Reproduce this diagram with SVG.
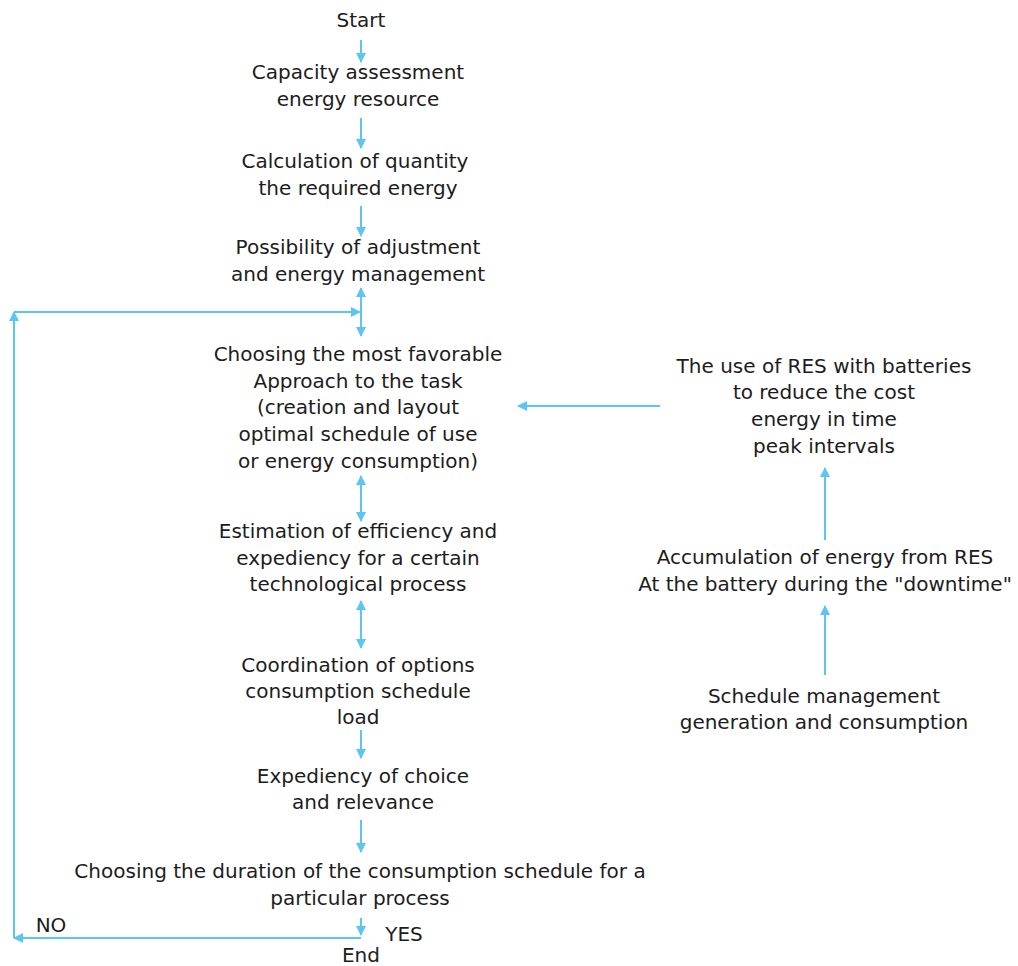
<svg xmlns="http://www.w3.org/2000/svg" width="1018" height="966" viewBox="0 0 1018 966">
  <style>
    text { font-family: "DejaVu Sans", "Liberation Sans", sans-serif; font-size: 20px; fill: #1c1c1c; text-anchor: middle; }
    .ln { stroke: #5bc6ef; stroke-width: 2; fill: none; }
  </style>
  <defs>
    <marker id="ah" viewBox="0 0 10 10" refX="9" refY="5" markerWidth="10" markerHeight="10" markerUnits="userSpaceOnUse" orient="auto-start-reverse">
      <path d="M0,0 L10,5 L0,10 z" fill="#5bc6ef"/>
    </marker>
  </defs>

  <g id="connectors">
    <line class="ln" x1="361" y1="40" x2="361" y2="62" marker-end="url(#ah)"/>
    <line class="ln" x1="361" y1="118" x2="361" y2="148" marker-end="url(#ah)"/>
    <line class="ln" x1="361" y1="206" x2="361" y2="236" marker-end="url(#ah)"/>
    <line class="ln" x1="361" y1="288" x2="361" y2="336" marker-start="url(#ah)" marker-end="url(#ah)"/>
    <line class="ln" x1="361" y1="476" x2="361" y2="521" marker-start="url(#ah)" marker-end="url(#ah)"/>
    <line class="ln" x1="361" y1="601" x2="361" y2="648" marker-start="url(#ah)" marker-end="url(#ah)"/>
    <line class="ln" x1="361" y1="730" x2="361" y2="758" marker-end="url(#ah)"/>
    <line class="ln" x1="361" y1="820" x2="361" y2="852" marker-end="url(#ah)"/>
    <line class="ln" x1="361" y1="918" x2="361" y2="935" marker-end="url(#ah)"/>
    <polyline class="ln" points="361,938 14,938" marker-end="url(#ah)"/>
    <line class="ln" x1="14" y1="938" x2="14" y2="312" marker-end="url(#ah)"/>
    <line class="ln" x1="14" y1="312" x2="360" y2="312" marker-end="url(#ah)"/>
    <line class="ln" x1="660" y1="406" x2="518" y2="406" marker-end="url(#ah)"/>
    <line class="ln" x1="825" y1="675" x2="825" y2="606" marker-end="url(#ah)"/>
    <line class="ln" x1="825" y1="540" x2="825" y2="468" marker-end="url(#ah)"/>
  </g>

  <g id="start"><text x="361" y="27">Start</text></g>
  <g id="capacity"><text x="358" y="79">Capacity assessment</text><text x="358" y="106">energy resource</text></g>
  <g id="calculation"><text x="355" y="168">Calculation of quantity</text><text x="358" y="195">the required energy</text></g>
  <g id="possibility"><text x="358" y="254">Possibility of adjustment</text><text x="358" y="281">and energy management</text></g>
  <g id="choosing-approach">
    <text x="358" y="361">Choosing the most favorable</text>
    <text x="358" y="388">Approach to the task</text>
    <text x="358" y="414">(creation and layout</text>
    <text x="358" y="441">optimal schedule of use</text>
    <text x="358" y="468">or energy consumption)</text>
  </g>
  <g id="estimation">
    <text x="358" y="538">Estimation of efficiency and</text>
    <text x="358" y="565">expediency for a certain</text>
    <text x="358" y="591">technological process</text>
  </g>
  <g id="coordination">
    <text x="358" y="672">Coordination of options</text>
    <text x="358" y="698">consumption schedule</text>
    <text x="358" y="724">load</text>
  </g>
  <g id="expediency"><text x="363" y="783">Expediency of choice</text><text x="363" y="809">and relevance</text></g>
  <g id="duration"><text x="360" y="878">Choosing the duration of the consumption schedule for a</text><text x="360" y="905">particular process</text></g>
  <g id="end"><text x="361" y="962">End</text></g>
  <g id="yes"><text x="404" y="941">YES</text></g>
  <g id="no"><text x="51" y="932">NO</text></g>

  <g id="res-batteries">
    <text x="824" y="373">The use of RES with batteries</text>
    <text x="824" y="399">to reduce the cost</text>
    <text x="824" y="426">energy in time</text>
    <text x="824" y="453">peak intervals</text>
  </g>
  <g id="accumulation">
    <text x="825" y="564">Accumulation of energy from RES</text>
    <text x="825" y="591">At the battery during the "downtime"</text>
  </g>
  <g id="schedule-management">
    <text x="824" y="703">Schedule management</text>
    <text x="824" y="729">generation and consumption</text>
  </g>
</svg>
